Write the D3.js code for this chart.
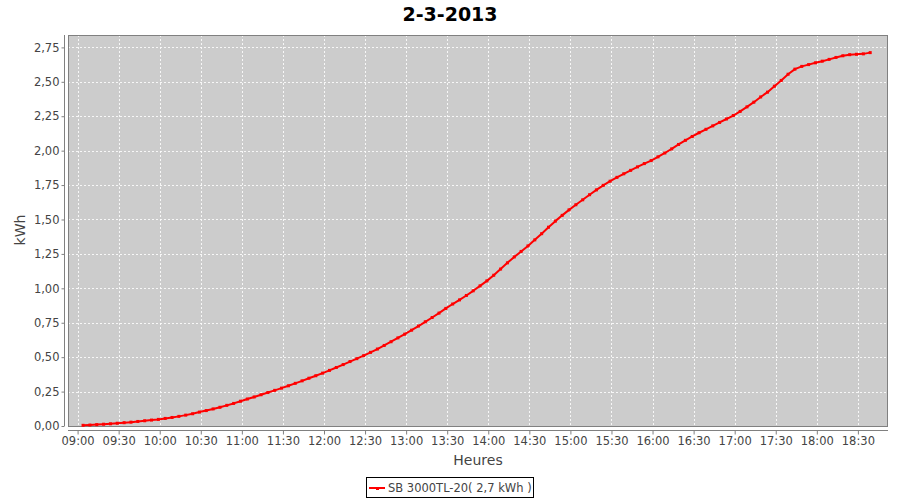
<!DOCTYPE html>
<html><head><meta charset="utf-8">
<script src="https://cdn.jsdelivr.net/npm/d3@7"></script>
<style>body{margin:0;background:#fff;font-family:"DejaVu Sans",sans-serif;}</style>
</head><body><svg id="c" width="900" height="500"></svg>
<script>
const title = "2-3-2013";
const seriesName = "SB 3000TL-20( 2,7 kWh )";
const times = ["09:04","09:09","09:14","09:19","09:24","09:29","09:34","09:39","09:44","09:49","09:54","09:59",
"10:04","10:09","10:14","10:19","10:24","10:29","10:34","10:39","10:44","10:49","10:54","10:59",
"11:04","11:09","11:14","11:19","11:24","11:29","11:34","11:39","11:44","11:49","11:54","11:59",
"12:04","12:09","12:14","12:19","12:24","12:29","12:34","12:39","12:44","12:49","12:54","12:59",
"13:04","13:09","13:14","13:19","13:24","13:29","13:34","13:39","13:44","13:49","13:54","13:59",
"14:04","14:09","14:14","14:19","14:24","14:29","14:34","14:39","14:44","14:49","14:54","14:59",
"15:04","15:09","15:14","15:19","15:24","15:29","15:34","15:39","15:44","15:49","15:54","15:59",
"16:04","16:09","16:14","16:19","16:24","16:29","16:34","16:39","16:44","16:49","16:54","16:59",
"17:04","17:09","17:14","17:19","17:24","17:29","17:34","17:39","17:44","17:49","17:54","17:59",
"18:04","18:09","18:14","18:19","18:24","18:29","18:34","18:39"];
const kwh = [0.005,0.007,0.010,0.013,0.016,0.020,0.024,0.028,0.033,0.038,0.043,0.048,
0.055,0.062,0.070,0.079,0.089,0.101,0.112,0.124,0.136,0.150,0.164,0.180,
0.196,0.211,0.227,0.243,0.259,0.275,0.292,0.310,0.328,0.347,0.365,0.384,
0.404,0.425,0.446,0.468,0.489,0.511,0.535,0.559,0.585,0.612,0.640,0.667,
0.696,0.726,0.757,0.788,0.820,0.854,0.886,0.916,0.948,0.982,1.018,1.054,
1.095,1.140,1.185,1.228,1.268,1.308,1.352,1.397,1.444,1.488,1.530,1.570,
1.607,1.643,1.680,1.715,1.748,1.778,1.806,1.832,1.857,1.882,1.906,1.928,
1.955,1.983,2.013,2.045,2.075,2.103,2.130,2.155,2.180,2.205,2.230,2.255,
2.285,2.318,2.352,2.390,2.425,2.468,2.510,2.555,2.592,2.612,2.625,2.638,
2.650,2.663,2.677,2.689,2.697,2.700,2.703,2.712];
const xTickLabels = ["09:00","09:30","10:00","10:30","11:00","11:30","12:00","12:30","13:00","13:30","14:00","14:30","15:00","15:30","16:00","16:30","17:00","17:30","18:00","18:30"];
const yTicks = [0,0.25,0.5,0.75,1,1.25,1.5,1.75,2,2.25,2.5,2.75];

const parse = d3.timeParse("%H:%M");
const data = times.map((t,i)=>({t:parse(t), v:kwh[i]}));

const svg = d3.select("#c");
const L=68, R=888, T=35, B=426;
const x = d3.scaleTime().domain([parse("08:53"), parse("18:52")]).range([L,R]);
// calibrate: 09:00 -> ~76.7
const y = d3.scaleLinear().domain([0,2.84]).range([B,T]);

svg.append("rect").attr("x",L).attr("y",T).attr("width",R-L).attr("height",B-T).attr("fill","#cccccc");

const grid = svg.append("g");
xTickLabels.forEach(s=>{
  const xx = Math.round(x(parse(s)))+0.5;
  grid.append("line").attr("x1",xx).attr("x2",xx).attr("y1",T).attr("y2",B)
    .attr("stroke","#ffffff").attr("stroke-dasharray","2,2").attr("stroke-width",1).attr("opacity",0.85);
});
yTicks.forEach(v=>{
  const yy = Math.round(y(v))+0.5;
  grid.append("line").attr("x1",L).attr("x2",R).attr("y1",yy).attr("y2",yy)
    .attr("stroke","#ffffff").attr("stroke-dasharray","2,2").attr("stroke-width",1).attr("opacity",0.85);
});

svg.append("rect").attr("x",L+0.5).attr("y",T+0.5).attr("width",R-L-1).attr("height",B-T).attr("fill","none").attr("stroke","#808080");

// axes
const fmt = v => d3.format(".2f")(v).replace(".",",");
const yAxis = d3.axisLeft(y).tickValues(yTicks).tickFormat(fmt).tickSizeInner(3).tickSizeOuter(0).tickPadding(2);
const gy = svg.append("g").attr("transform","translate(64.5,0)").call(yAxis);
gy.select(".domain").attr("d",`M0,${T}V${B}`);
const xAxis = d3.axisBottom(x).tickValues(xTickLabels.map(parse)).tickFormat(d3.timeFormat("%H:%M")).tickSizeInner(4).tickSizeOuter(0).tickPadding(2);
const gx = svg.append("g").attr("transform","translate(0,430.5)").call(xAxis);
gx.select(".domain").attr("d",`M${L},0H${R}`);
[gx,gy].forEach(g=>{
  g.selectAll(".domain").attr("stroke","#808080");
  g.selectAll(".tick line").attr("stroke","#808080");
  g.selectAll(".tick text").attr("fill","#444444").attr("font-size","11.5px").attr("font-family","DejaVu Sans, sans-serif");
});

// line
const line = d3.line().x(d=>x(d.t)).y(d=>y(d.v));
svg.append("path").datum(data).attr("d",line).attr("fill","none").attr("stroke","#ff0000").attr("stroke-width",2).attr("stroke-linejoin","round");
svg.append("g").selectAll("rect").data(data).join("rect")
  .attr("x",d=>x(d.t)-1.5).attr("y",d=>y(d.v)-1.5).attr("width",3).attr("height",3).attr("fill","#ff0000");

// title and labels
svg.append("text").attr("x",450).attr("y",21).attr("text-anchor","middle").attr("font-size","19px").attr("font-weight","bold").attr("fill","#000").text(title);
svg.append("text").attr("x",(L+R)/2).attr("y",465).attr("text-anchor","middle").attr("font-size","14px").attr("fill","#444444").text("Heures");
svg.append("text").attr("transform","translate(25,230) rotate(-90)").attr("text-anchor","middle").attr("font-size","14px").attr("fill","#444444").text("kWh");

// legend
svg.append("rect").attr("x",366.5).attr("y",477.5).attr("width",167).attr("height",20).attr("fill","#fff").attr("stroke","#000");
svg.append("line").attr("x1",369).attr("x2",385).attr("y1",488).attr("y2",488).attr("stroke","#ff0000").attr("stroke-width",2);
svg.append("rect").attr("x",376).attr("y",487).attr("width",3).attr("height",3).attr("fill","#ff0000");
svg.append("text").attr("x",388).attr("y",492).attr("font-size","11.5px").attr("fill","#444444").text(seriesName);
</script></body></html>
